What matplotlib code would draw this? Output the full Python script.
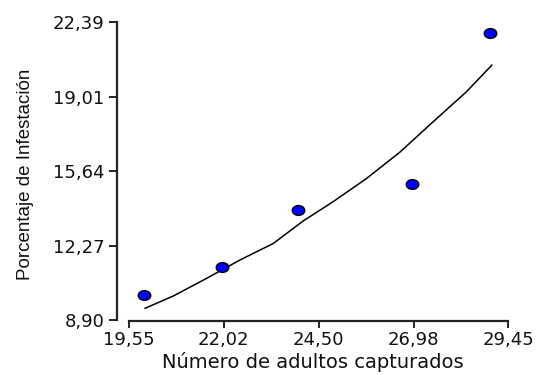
#!/usr/bin/env python3

import matplotlib
matplotlib.use('Agg')
import matplotlib.pyplot as plt
from matplotlib.path import Path
from matplotlib.transforms import Affine2D


# Datos observados
adultos = [19.94, 21.97, 23.95, 26.93, 28.96]
infestacion = [10.02, 11.31, 13.88, 15.04, 21.88]

# Curva de ajuste
curva_x = [19.97, 20.71, 21.58, 22.45, 23.32, 24.10, 24.88, 25.75, 26.62, 27.49, 28.36, 29.02]
curva_y = [9.43, 9.99, 10.79, 11.62, 12.37, 13.39, 14.26, 15.31, 16.50, 17.88, 19.24, 20.44]

xticks = [19.55, 22.02, 24.50, 26.98, 29.45]
yticks = [8.90, 12.27, 15.64, 19.01, 22.39]
xlabels = ['19,55', '22,02', '24,50', '26,98', '29,45']
ylabels = ['8,90', '12,27', '15,64', '19,01', '22,39']

plt.rcParams['font.family'] = ['DejaVu Sans']

fig = plt.figure(figsize=(5.39, 3.75), dpi=100)
ax = fig.add_axes([0.2165, 0.144, 0.7265, 0.797])

ax.plot(curva_x, curva_y, color='black', lw=1.1, zorder=2)

elipse = Path.unit_circle().transformed(Affine2D().scale(1.0, 0.78))
ax.plot(adultos, infestacion, linestyle='none', marker=elipse, ms=9,
        mfc='#0000ff', mec='black', mew=1.0, zorder=3)

ax.set_xlim(19.229, 29.45)
ax.set_ylim(8.855, 22.39)
ax.spines['top'].set_visible(False)
ax.spines['right'].set_visible(False)
ax.spines['bottom'].set_bounds(19.55, 29.45)
ax.spines['left'].set_bounds(8.90, 22.39)
for s in ('bottom', 'left'):
    ax.spines[s].set_linewidth(1.6)
    ax.spines[s].set_color('#222222')

ax.set_xticks(xticks)
ax.set_xticklabels(xlabels, fontsize=13, color='#111111')
ax.set_yticks(yticks)
ax.set_yticklabels(ylabels, fontsize=13, color='#111111')
ax.tick_params(axis='x', direction='out', length=5, width=1.4, color='#222222', pad=2)
ax.tick_params(axis='y', direction='out', length=5.5, width=1.4, color='#222222', pad=3.5)

ax.set_xlabel('Número de adultos capturados', fontsize=14, color='#111111')
ax.xaxis.set_label_coords(0.5, -0.105)
ax.set_ylabel('Porcentaje de Infestación', fontsize=13.5, family='Liberation Sans', color='#111111')
ax.yaxis.set_label_coords(-0.21, 0.49)

fig.savefig('out.png', dpi=100)
